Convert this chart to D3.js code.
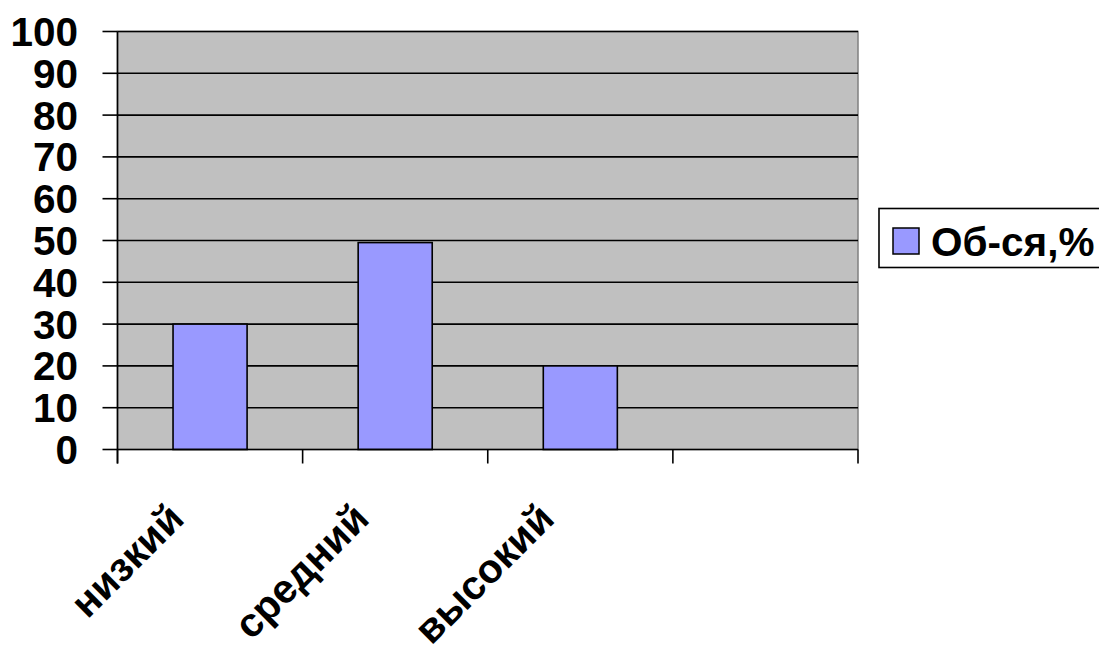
<!DOCTYPE html>
<html>
<head>
<meta charset="utf-8">
<script src="https://cdn.jsdelivr.net/npm/d3@7"></script>
<style>
  html, body { margin: 0; padding: 0; background: #ffffff; }
  svg { display: block; }
</style>
</head>
<body>
<svg id="chart" width="1099" height="645"></svg>
<script>
// Categories along the x axis (the fourth slot is left empty)
const categories = ["низкий", "средний", "высокий", ""];
// Series values, percent
const seriesName = "Об-ся,%";
const seriesValues = [30, 49.5, 20, null];
// Value axis ticks
const yTicks = [0, 10, 20, 30, 40, 50, 60, 70, 80, 90, 100];

const svg = d3.select("#chart");
const font = "'Liberation Sans', Arial, sans-serif";
const fontSize = 40.5;

const plot = { left: 117.5, right: 858, top: 31.5, bottom: 449.5 };

const x = d3.scaleBand()
  .domain(d3.range(categories.length))
  .range([plot.left, plot.right])
  .paddingInner(0).paddingOuter(0);

const y = d3.scaleLinear()
  .domain([0, 100])
  .range([plot.bottom, plot.top]);

// Plot area background
svg.append("rect")
  .attr("x", plot.left).attr("y", plot.top)
  .attr("width", plot.right - plot.left)
  .attr("height", plot.bottom - plot.top)
  .attr("fill", "#c0c0c0")
  .attr("stroke", "#808080")
  .attr("stroke-width", 1.5);

// Horizontal gridlines
svg.append("g").selectAll("line")
  .data(yTicks.filter(d => d > 0))
  .join("line")
  .attr("x1", plot.left).attr("x2", plot.right)
  .attr("y1", d => y(d)).attr("y2", d => y(d))
  .attr("stroke", "#000").attr("stroke-width", 1.6);

// Bars
const barW = x.bandwidth() * 0.4;
svg.append("g").selectAll("rect")
  .data(seriesValues.map((v, i) => ({ v, i })).filter(d => d.v != null))
  .join("rect")
  .attr("x", d => x(d.i) + (x.bandwidth() - barW) / 2)
  .attr("y", d => y(d.v))
  .attr("width", barW)
  .attr("height", d => y(0) - y(d.v))
  .attr("fill", "#9999ff")
  .attr("stroke", "#000")
  .attr("stroke-width", 1.6);

// Value axis line with tick marks and labels
const yAxis = svg.append("g");
yAxis.append("line")
  .attr("x1", plot.left).attr("x2", plot.left)
  .attr("y1", plot.top).attr("y2", plot.bottom + 14)
  .attr("stroke", "#000").attr("stroke-width", 1.6);
yAxis.selectAll("line.tick")
  .data(yTicks)
  .join("line")
  .attr("class", "tick")
  .attr("x1", plot.left - 15).attr("x2", plot.left)
  .attr("y1", d => y(d)).attr("y2", d => y(d))
  .attr("stroke", "#000").attr("stroke-width", 1.6);
yAxis.selectAll("text")
  .data(yTicks)
  .join("text")
  .attr("x", 78)
  .attr("y", d => y(d))
  .attr("dy", "0.36em")
  .attr("text-anchor", "end")
  .attr("font-family", font)
  .attr("font-weight", "bold")
  .attr("font-size", fontSize)
  .attr("fill", "#000")
  .text(d => d);

// Category axis line with tick marks at band boundaries
const xAxis = svg.append("g");
xAxis.append("line")
  .attr("x1", plot.left).attr("x2", plot.right)
  .attr("y1", plot.bottom).attr("y2", plot.bottom)
  .attr("stroke", "#000").attr("stroke-width", 1.6);
const boundaries = d3.range(categories.length + 1)
  .map(i => i < categories.length ? x(i) : x(categories.length - 1) + x.bandwidth());
xAxis.selectAll("line.tick")
  .data(boundaries)
  .join("line")
  .attr("class", "tick")
  .attr("x1", d => d).attr("x2", d => d)
  .attr("y1", plot.bottom).attr("y2", plot.bottom + 14)
  .attr("stroke", "#000").attr("stroke-width", 1.6);
xAxis.selectAll("text")
  .data(categories.map((c, i) => ({ c, i })).filter(d => d.c))
  .join("text")
  .attr("transform", d => `translate(${x(d.i) + x.bandwidth() / 2 - 24},521) rotate(-45)`)
  .attr("text-anchor", "end")
  .attr("font-family", font)
  .attr("font-weight", "bold")
  .attr("font-size", fontSize)
  .attr("fill", "#000")
  .text(d => d.c);

// Legend
const legend = svg.append("g");
legend.append("rect")
  .attr("x", 879).attr("y", 208.5)
  .attr("width", 260).attr("height", 59)
  .attr("fill", "#fff")
  .attr("stroke", "#000").attr("stroke-width", 1.6);
legend.append("rect")
  .attr("x", 893).attr("y", 228)
  .attr("width", 26).attr("height", 26)
  .attr("fill", "#9999ff")
  .attr("stroke", "#000").attr("stroke-width", 1.5);
legend.append("text")
  .attr("x", 931).attr("y", 241)
  .attr("dy", "0.36em")
  .attr("font-family", font)
  .attr("font-weight", "bold")
  .attr("font-size", fontSize)
  .attr("fill", "#000")
  .text(seriesName);
</script>
</body>
</html>
